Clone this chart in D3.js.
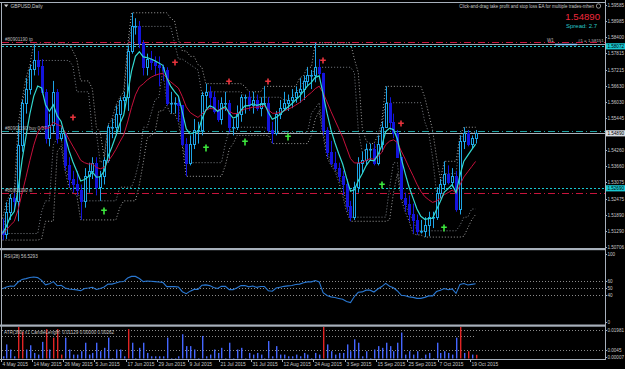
<!DOCTYPE html>
<html>
<head>
<meta charset="utf-8">
<script src="https://cdnjs.cloudflare.com/ajax/libs/d3/7.8.5/d3.min.js"></script>
<style>
  html, body { margin: 0; padding: 0; background: #000; overflow: hidden; }
  svg { display: block; }
</style>
</head>
<body>
<script>
// GBPUSD daily, 4 May 2015 .. 20 Oct 2015
var opens = [1.5130,1.5120,1.5200,1.5250,1.5240,1.5445,1.5600,1.5650,1.5725,1.5755,
  1.5735,1.5640,1.5470,1.5520,1.5640,1.5470,1.5490,1.5370,1.5320,1.5300,
  1.5280,1.5240,1.5330,1.5350,1.5380,1.5290,1.5330,1.5390,1.5510,1.5510,
  1.5560,1.5610,1.5620,1.5790,1.5880,1.5880,1.5820,1.5730,1.5760,1.5750,
  1.5740,1.5730,1.5720,1.5600,1.5600,1.5600,1.5590,1.5450,1.5380,1.5450,
  1.5500,1.5500,1.5630,1.5640,1.5620,1.5570,1.5540,1.5600,1.5600,1.5510,
  1.5510,1.5560,1.5620,1.5620,1.5590,1.5610,1.5580,1.5600,1.5600,1.5500,
  1.5490,1.5560,1.5580,1.5600,1.5610,1.5620,1.5640,1.5650,1.5680,1.5700,
  1.5700,1.5730,1.5710,1.5500,1.5420,1.5380,1.5360,1.5330,1.5300,1.5220,
  1.5180,1.5290,1.5380,1.5390,1.5430,1.5430,1.5380,1.5450,1.5510,1.5600,
  1.5530,1.5490,1.5400,1.5250,1.5230,1.5190,1.5170,1.5130,1.5130,1.5150,
  1.5180,1.5180,1.5270,1.5300,1.5340,1.5310,1.5330,1.5210,1.5460,1.5490,
  1.5450,1.5470];
var highs = [1.5175,1.5235,1.5265,1.5270,1.5520,1.5610,1.5690,1.5740,1.5815,1.5790,
  1.5760,1.5650,1.5560,1.5680,1.5650,1.5510,1.5490,1.5400,1.5350,1.5350,
  1.5300,1.5360,1.5380,1.5400,1.5400,1.5350,1.5400,1.5520,1.5540,1.5590,
  1.5620,1.5640,1.5810,1.5930,1.5910,1.5900,1.5830,1.5780,1.5790,1.5770,
  1.5770,1.5740,1.5730,1.5640,1.5620,1.5620,1.5590,1.5470,1.5480,1.5540,
  1.5530,1.5640,1.5670,1.5660,1.5640,1.5610,1.5620,1.5640,1.5610,1.5540,
  1.5590,1.5630,1.5630,1.5640,1.5640,1.5630,1.5620,1.5660,1.5620,1.5530,
  1.5570,1.5610,1.5640,1.5630,1.5650,1.5660,1.5690,1.5700,1.5730,1.5720,
  1.5820,1.5760,1.5710,1.5510,1.5460,1.5420,1.5380,1.5350,1.5320,1.5240,
  1.5310,1.5400,1.5420,1.5450,1.5450,1.5450,1.5480,1.5530,1.5660,1.5620,
  1.5560,1.5500,1.5400,1.5270,1.5260,1.5230,1.5190,1.5170,1.5180,1.5200,
  1.5200,1.5290,1.5320,1.5385,1.5370,1.5360,1.5350,1.5480,1.5510,1.5500,
  1.5480,1.5500];
var lows = [1.5096,1.5100,1.5170,1.5200,1.5165,1.5420,1.5560,1.5630,1.5700,1.5700,
  1.5630,1.5450,1.5440,1.5490,1.5450,1.5460,1.5350,1.5290,1.5270,1.5260,
  1.5170,1.5215,1.5270,1.5320,1.5260,1.5240,1.5300,1.5380,1.5470,1.5480,
  1.5490,1.5570,1.5570,1.5780,1.5850,1.5800,1.5700,1.5700,1.5720,1.5700,
  1.5660,1.5680,1.5590,1.5560,1.5560,1.5530,1.5440,1.5330,1.5370,1.5430,
  1.5450,1.5480,1.5580,1.5580,1.5560,1.5530,1.5520,1.5570,1.5490,1.5480,
  1.5500,1.5530,1.5560,1.5570,1.5560,1.5570,1.5550,1.5590,1.5490,1.5450,
  1.5480,1.5540,1.5570,1.5570,1.5580,1.5600,1.5600,1.5610,1.5660,1.5650,
  1.5675,1.5700,1.5480,1.5400,1.5370,1.5350,1.5310,1.5260,1.5200,1.5165,
  1.5170,1.5270,1.5340,1.5370,1.5390,1.5370,1.5370,1.5420,1.5510,1.5500,
  1.5470,1.5400,1.5245,1.5200,1.5165,1.5120,1.5115,1.5120,1.5107,1.5110,
  1.5140,1.5170,1.5250,1.5280,1.5300,1.5290,1.5200,1.5190,1.5430,1.5440,
  1.5430,1.5450];
var closes = [1.5120,1.5200,1.5250,1.5240,1.5445,1.5600,1.5650,1.5725,1.5755,1.5735,
  1.5640,1.5470,1.5520,1.5640,1.5470,1.5490,1.5370,1.5320,1.5300,1.5280,
  1.5240,1.5330,1.5350,1.5380,1.5290,1.5330,1.5390,1.5510,1.5510,1.5560,
  1.5610,1.5620,1.5790,1.5880,1.5880,1.5820,1.5730,1.5760,1.5750,1.5740,
  1.5730,1.5720,1.5600,1.5600,1.5600,1.5590,1.5450,1.5380,1.5450,1.5500,
  1.5500,1.5630,1.5640,1.5620,1.5570,1.5540,1.5600,1.5600,1.5510,1.5510,
  1.5560,1.5620,1.5620,1.5590,1.5610,1.5580,1.5600,1.5600,1.5500,1.5490,
  1.5560,1.5580,1.5600,1.5610,1.5620,1.5640,1.5650,1.5680,1.5700,1.5700,
  1.5730,1.5710,1.5500,1.5420,1.5380,1.5360,1.5330,1.5300,1.5220,1.5180,
  1.5290,1.5380,1.5390,1.5430,1.5430,1.5380,1.5450,1.5510,1.5600,1.5530,
  1.5490,1.5400,1.5250,1.5230,1.5190,1.5170,1.5130,1.5130,1.5150,1.5180,
  1.5180,1.5270,1.5300,1.5340,1.5310,1.5330,1.5210,1.5460,1.5490,1.5450,
  1.5470,1.5489];

var dateLabels = ["4 May 2015","14 May 2015","26 May 2015","5 Jun 2015","17 Jun 2015",
  "29 Jun 2015","9 Jul 2015","21 Jul 2015","31 Jul 2015","12 Aug 2015","24 Aug 2015",
  "3 Sep 2015","15 Sep 2015","25 Sep 2015","7 Oct 2015","19 Oct 2015"];
var priceTicks = [1.59585,1.58985,1.58400,1.57815,1.57215,1.56630,1.56030,1.55445,
  1.54260,1.53660,1.53075,1.52475,1.51890,1.51290,1.50706];
var rsiTicks = [100, 60, 50, 40, 0];
var atrTicks = [0.0045, 0.00007];
var atrMaxLabel = "0.01981";

// signal arrows (bar index, price)
var sellIdx = [18, 44, 58, 68, 82, 102];
var sellPrice = [1.5543, 1.5746, 1.5676, 1.5676, 1.5753, 1.5522];
var buyIdx = [26, 52, 62, 73, 97, 113];
var buyPrice = [1.5203, 1.5434, 1.5456, 1.5474, 1.5298, 1.5140];

// candle-length bars shown in red
var redBars = [4, 5, 11, 13, 14, 15, 32, 82, 117, 119, 121];
var atrLine = 0.0130;

// order / level lines
var linePrices = [1.58230, 1.58160, 1.58072, 1.54960, 1.54890, 1.52860, 1.52690];
var lineKinds  = ["tp", "w1", "cyanDot", "open", "bid", "cyanDot", "sl"];

var W = 625, H = 369;
var frameCol = "#a7b0bb", textCol = "#c8c8c8";
var font = "Liberation Sans, Arial, sans-serif";
var small = 4.6;

var svg = d3.select("body").append("svg").attr("width", W).attr("height", H)
  .style("background", "#000");

var n = closes.length;
var x = d3.scaleLinear().domain([0, n - 1]).range([2.5, 475.6]);
var y = d3.scaleLinear().domain([1.50706, 1.59585]).range([247, 5]);
var yRsi = d3.scaleLinear().domain([0, 100]).range([322, 254]);
var yAtr = d3.scaleLinear().domain([0, 0.0165]).range([358, 330]);

var defs = svg.append("defs");
defs.append("clipPath").attr("id", "cMain").append("rect").attr("x", 2).attr("y", 3).attr("width", 603).attr("height", 245);
defs.append("clipPath").attr("id", "cRsi").append("rect").attr("x", 2).attr("y", 251).attr("width", 603).attr("height", 73);
defs.append("clipPath").attr("id", "cAtr").append("rect").attr("x", 2).attr("y", 327).attr("width", 603).attr("height", 32);

// ---- indicators computed from the price arrays ----
function ema(arr, p) {
  var k = 2 / (p + 1), out = [], prev = arr[0];
  arr.forEach(function(v, i) { prev = i === 0 ? v : v * k + prev * (1 - k); out.push(prev); });
  return out;
}
function rolling(arr, p, fn) {
  return arr.map(function(v, i) { return fn(arr.slice(Math.max(0, i - p + 1), i + 1)); });
}
var fast = ema(closes, 5);
var slow = ema(closes, 12);
var chUp = rolling(highs, 10, d3.max), chDn = rolling(lows, 10, d3.min);
var ccUp = rolling(closes, 10, d3.max), ccDn = rolling(closes, 10, d3.min);

var rsi = [];
(function() {
  var p = 19, ag = 0.0040, al = 0.0042;
  closes.forEach(function(c, i) {
    if (i > 0) {
      var d = c - closes[i - 1];
      ag = (ag * (p - 1) + Math.max(d, 0)) / p;
      al = (al * (p - 1) + Math.max(-d, 0)) / p;
    }
    rsi.push(100 - 100 / (1 + ag / al));
  });
})();

function txt(g, s, tx, ty, size, col, anchor) {
  return g.append("text").attr("x", tx).attr("y", ty).text(s)
    .attr("font-family", font).attr("font-size", size).attr("fill", col)
    .attr("text-anchor", anchor || "start");
}

// ---- main panel ----
var gMain = svg.append("g").attr("clip-path", "url(#cMain)");
var line = d3.line().x(function(d, i) { return x(i); }).y(function(d) { return y(d); });

// dotted price channels
[chUp, chDn].forEach(function(s) {
  gMain.append("path").attr("d", line(s)).attr("fill", "none")
    .attr("stroke", "#a0a0a0").attr("stroke-width", 1).attr("stroke-dasharray", "1,2");
});
[ccUp, ccDn].forEach(function(s) {
  gMain.append("path").attr("d", line(s)).attr("fill", "none")
    .attr("stroke", "#7c8088").attr("stroke-width", 1).attr("stroke-dasharray", "1,2");
});

// horizontal level lines
var kindStyle = {
  tp:      {c: "#c8143c", d: "7,3,1,3"},
  sl:      {c: "#c8143c", d: "7,3,1,3"},
  w1:      {c: "#9aa6b4", d: null},
  bid:     {c: "#aab2bc", d: null},
  open:    {c: "#1fa3a3", d: "7,3,1,3"},
  cyanDot: {c: "#19c8d2", d: "2,2"}
};
linePrices.forEach(function(p, i) {
  var st = kindStyle[lineKinds[i]];
  var yy = Math.round(y(p)) + 0.5;
  gMain.append("line").attr("x1", 2).attr("x2", 605).attr("y1", yy).attr("y2", yy)
    .attr("stroke", st.c).attr("stroke-width", 1).attr("stroke-dasharray", st.d);
});
var w1y = Math.round(y(1.58160)) + 0.5;
gMain.append("line").attr("x1", 555).attr("x2", 577).attr("y1", w1y).attr("y2", w1y)
  .attr("stroke", "#8cc8ff").attr("stroke-width", 1.5);

// candles
var bullCol = "#1ea4e6", bearCol = "#1414dc";
var cg = gMain.append("g");
closes.forEach(function(c, i) {
  var cx = Math.round(x(i));
  var bull = c >= opens[i];
  var col = bull ? bullCol : bearCol;
  cg.append("line").attr("x1", cx + 0.5).attr("x2", cx + 0.5)
    .attr("y1", y(highs[i])).attr("y2", y(lows[i])).attr("stroke", col).attr("stroke-width", 1);
  var top = Math.round(y(Math.max(c, opens[i]))), bot = Math.round(y(Math.min(c, opens[i])));
  cg.append("rect").attr("x", cx - 0.5).attr("y", top + 0.5)
    .attr("width", 2).attr("height", Math.max(bot - top, 0.5))
    .attr("fill", bull ? "#000" : col).attr("stroke", col).attr("stroke-width", 1);
});

// moving averages
gMain.append("path").attr("d", line(slow)).attr("fill", "none").attr("stroke", "#c8103c").attr("stroke-width", 1);
gMain.append("path").attr("d", line(fast)).attr("fill", "none").attr("stroke", "#32d8d0").attr("stroke-width", 1.2);

// arrows
sellIdx.forEach(function(ix, k) {
  gMain.append("path").attr("transform", "translate(" + Math.round(x(ix)) + "," + Math.round(y(sellPrice[k])) + ")")
    .attr("d", "M-0.8,-3.5h1.6v2h2v1.6h-2v2.4h-1.6v-2.4h-2v-1.6h2z").attr("fill", "#e8343c");
});
buyIdx.forEach(function(ix, k) {
  gMain.append("path").attr("transform", "translate(" + Math.round(x(ix)) + "," + Math.round(y(buyPrice[k])) + ")")
    .attr("d", "M-0.8,-3.5h1.6v2h2v1.6h-2v3.4h-1.6v-3.4h-2v-1.6h2z").attr("fill", "#3ce83c");
});

// order labels
txt(svg, "#80901190 tp", 5, 40.5, small, "#b8b8b8");
txt(svg, "#80901190 buy 0.07", 5, 130, small, "#b8b8b8");
txt(svg, "#80901190 sl", 5, 191.5, small, "#b8b8b8");
txt(svg, "W1", 547, 42, small, "#b8b8b8");
txt(svg, "#1 = 1.58151", 578, 42, 4.4, "#b8b8b8");

// title + EA info
svg.append("path").attr("d", "M4,4.5h4.4l-2.2,2.8z").attr("fill", "#d0d0d0");
txt(svg, "GBPUSD,Daily", 10.5, 7.8, 4.8, textCol);
txt(svg, "Click-and-drag take profit and stop loss EA for multiple trades-mhen", 594, 7.8, 4.5, textCol, "end");
svg.append("circle").attr("cx", 598.5).attr("cy", 6).attr("r", 2.2).attr("fill", "none").attr("stroke", textCol).attr("stroke-width", 0.7);
txt(svg, "1.54890", 600, 20, 9.6, "#f0283c", "end");
txt(svg, "Spread: 2.7", 597, 28, 6, "#28c8c8", "end");

// ---- RSI panel ----
var gRsi = svg.append("g").attr("clip-path", "url(#cRsi)");
[60, 50, 40].forEach(function(v) {
  var yy = Math.round(yRsi(v)) + 0.5;
  gRsi.append("line").attr("x1", 2).attr("x2", 605).attr("y1", yy).attr("y2", yy)
    .attr("stroke", "#8a8a8a").attr("stroke-dasharray", "1,2");
});
gRsi.append("path").attr("d", d3.line().x(function(d, i) { return x(i); }).y(function(d) { return yRsi(d); })(rsi))
  .attr("fill", "none").attr("stroke", "#2a78d2").attr("stroke-width", 1.1);
txt(svg, "RSI(28) 56.5293", 4, 257.5, small, textCol);

// ---- candle length panel ----
var gAtr = svg.append("g").attr("clip-path", "url(#cAtr)");
[330.5, Math.round(yAtr(0.0045)) + 0.5].forEach(function(yy) {
  gAtr.append("line").attr("x1", 2).attr("x2", 605).attr("y1", yy).attr("y2", yy)
    .attr("stroke", "#8a8a8a").attr("stroke-dasharray", "1,2");
});
var ay = Math.round(yAtr(atrLine)) + 0.5;
gAtr.append("line").attr("x1", 2).attr("x2", x(n - 1)).attr("y1", ay).attr("y2", ay)
  .attr("stroke", "#8a8a8a").attr("stroke-dasharray", "1,2");
closes.forEach(function(c, i) {
  var len = Math.abs(c - opens[i]);
  var cx = Math.round(x(i));
  var red = redBars.indexOf(i) >= 0;
  var top = yAtr(len);
  gAtr.append("rect").attr("x", cx).attr("y", top).attr("width", 1.4).attr("height", 358.5 - top)
    .attr("fill", red ? "#e02424" : "#4466ff");
});
txt(svg, "ATR(360) x1 CandleLength: 0.01129 0.00000 0.00262", 4, 333.5, small, textCol);

// ---- frame, separators, axes ----
svg.append("line").attr("x1", 0).attr("x2", 606).attr("y1", 2.5).attr("y2", 2.5).attr("stroke", frameCol);
svg.append("line").attr("x1", 1.5).attr("x2", 1.5).attr("y1", 2).attr("y2", 360).attr("stroke", frameCol);
svg.append("rect").attr("x", 0).attr("y", 248).attr("width", 606).attr("height", 2.2).attr("fill", frameCol);
svg.append("rect").attr("x", 0).attr("y", 324.5).attr("width", 606).attr("height", 2.2).attr("fill", frameCol);
svg.append("line").attr("x1", 0).attr("x2", 606).attr("y1", 359.5).attr("y2", 359.5).attr("stroke", frameCol);
svg.append("line").attr("x1", 605.5).attr("x2", 605.5).attr("y1", 0).attr("y2", 360).attr("stroke", frameCol);

// price axis
var yAxisG = svg.append("g");
var axSize = 4.6, axX = 607.4;
function tick(yy) {
  yAxisG.append("line").attr("x1", 605).attr("x2", 607).attr("y1", yy).attr("y2", yy).attr("stroke", frameCol);
}
priceTicks.forEach(function(p) {
  var yy = Math.round(y(p)) + 0.5;
  tick(yy);
  txt(yAxisG, p.toFixed(5), axX, Math.max(yy + 1.7, 7.2), axSize, textCol);
});
var hiLabels = [{p: 1.58072, bg: "#19c8d2"}, {p: 1.54890, bg: "#d8dde2"}, {p: 1.52860, t: "1.52690", bg: "#19c8d2"}];
hiLabels.forEach(function(h) {
  var yy = Math.round(y(h.p));
  yAxisG.append("rect").attr("x", 606).attr("y", yy - 2.8).attr("width", 19).attr("height", 6.2).attr("fill", h.bg);
  txt(yAxisG, h.t || h.p.toFixed(5), axX, yy + 2.1, axSize, "#000");
});
rsiTicks.forEach(function(v) {
  var yy = Math.round(yRsi(v)) + 0.5;
  tick(yy);
  txt(yAxisG, String(v), axX, yy + 1.7, axSize, textCol);
});
tick(330.5);
txt(yAxisG, atrMaxLabel, axX, 332.2, axSize, textCol);
atrTicks.forEach(function(v) {
  var yy = Math.min(Math.round(yAtr(v)) + 0.5, 357.5);
  tick(yy);
  txt(yAxisG, v < 0.001 ? v.toFixed(5) : v.toFixed(4), axX, yy + 1.7, axSize, textCol);
});

// date axis
dateLabels.forEach(function(s, k) {
  var xx = Math.round(x(k * 8)) + 0.5 - 2;
  svg.append("line").attr("x1", xx).attr("x2", xx).attr("y1", 359).attr("y2", 362).attr("stroke", frameCol);
  txt(svg, s, xx + 1, 366.3, 4.9, textCol);
});
</script>
</body>
</html>
